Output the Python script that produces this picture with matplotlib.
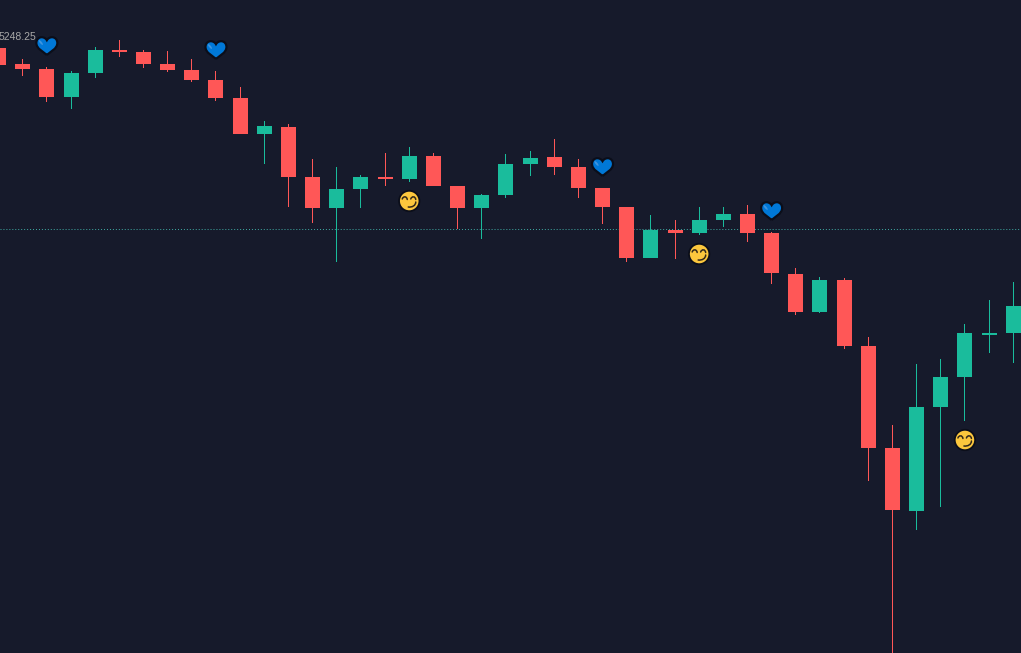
import matplotlib
matplotlib.use("Agg")
import matplotlib.pyplot as plt
from matplotlib.path import Path
from matplotlib.patches import PathPatch, Circle, Ellipse
from matplotlib.transforms import Affine2D

# Candle data
opens = [5245, 5241, 5239.75, 5232.75, 5238.75, 5244.5, 5244, 5241, 5239.5, 5237,
         5232.5, 5223.5, 5225.25, 5212.75, 5205, 5209.75, 5212.75, 5212.25, 5218, 5210.5,
         5205, 5208.25, 5216, 5217.75, 5215.25, 5210, 5205.25, 5192.5, 5199.5, 5198.75,
         5202, 5203.5, 5198.75, 5188.5, 5179, 5187, 5170.5, 5145, 5129.25, 5155.25,
         5162.75, 5173.25, 5173.75]
closes = [5240.75, 5239.75, 5232.75, 5238.75, 5244.5, 5244, 5241, 5239.5, 5237, 5232.5,
          5223.5, 5225.5, 5212.75, 5205, 5209.75, 5212.75, 5212.25, 5218, 5210.5, 5205,
          5208.25, 5216, 5217.5, 5215.25, 5210, 5205.25, 5192.5, 5199.5, 5198.75, 5202,
          5203.5, 5198.75, 5188.75, 5179, 5187, 5170.5, 5145, 5129.5, 5155.25, 5162.75,
          5173.75, 5173.75, 5180.5]
highs = [5245, 5242.25, 5240.25, 5239.25, 5245.25, 5247, 5244.5, 5244.25, 5242.25, 5239.25,
         5235.25, 5226.75, 5226, 5217.25, 5215.25, 5213.25, 5218.75, 5220.25, 5218.75, 5210.5,
         5208.5, 5218.5, 5219.25, 5222.25, 5217.25, 5210, 5205.25, 5203.25, 5202, 5205.25,
         5205.25, 5205.75, 5199, 5190, 5187.75, 5187.5, 5172.75, 5150.75, 5166, 5167.25,
         5176, 5182, 5186.5]
lows = [5240.75, 5238, 5231.5, 5229.75, 5237.5, 5242.75, 5240, 5239, 5236.5, 5231.75,
        5223.5, 5216, 5205.25, 5201.25, 5191.5, 5205, 5210.5, 5211.5, 5210.5, 5199.75,
        5197.25, 5207.5, 5213, 5213.25, 5207.5, 5201, 5191.5, 5192.5, 5192.25, 5198.25,
        5200.25, 5196.5, 5186, 5178.25, 5178.75, 5169.75, 5136.75, 5092, 5124.5, 5130.25,
        5151.75, 5168.75, 5166.25]

# Markers and price line
heart_bars = [2, 9, 25, 32]
heart_prices = [5245.5, 5244.5, 5215.25, 5204.25]
smile_bars = [17, 29, 40]
smile_prices = [5206.75, 5193.5, 5147]
last_price = 5199.75
high_label = "5248.25"
high_label_bar = 1.55
high_label_price = 5248.25

BG = "#161a2b"
RED = "#ff5757"
GREEN = "#1abc9c"
OUTLINE = "#0b0e1a"

plt.rcParams["font.family"] = ["Liberation Sans", "DejaVu Sans"]

fig = plt.figure(figsize=(10.21, 6.53), dpi=100, facecolor=BG)
ax = fig.add_axes([0, 0, 1, 1], facecolor=BG)
ax.set_xlim(0.0608, 42.321)
ax.set_ylim(5093.75, 5257)
ax.axis("off")

ax.axhline(last_price, color="#3fa9a2", lw=0.71, ls=(0, (1, 2)), zorder=1)

# Candles, wicks are one pixel wide bars so they snap like the bodies do
wick_width = 1 / 24.16
for i in range(len(opens)):
    color = GREEN if closes[i] >= opens[i] else RED
    ax.bar(i, highs[i] - lows[i], bottom=lows[i], width=wick_width, color=color,
           zorder=2, linewidth=0)
    ax.bar(i, abs(closes[i] - opens[i]), bottom=min(opens[i], closes[i]),
           width=15 * wick_width, color=color, zorder=3, linewidth=0)

ax.annotate(high_label, (high_label_bar, high_label_price), xytext=(0.6, -1.1),
            textcoords="offset points", color="#a8a8a8", fontsize=7.5,
            ha="right", va="center", zorder=4)

# Emoji shapes are in pixels around the anchor point
heart_verts = [(0, -9), (-3, -6), (-10.5, -3), (-10.5, 3), (-10.5, 6.5), (-8.2, 8.8), (-5.2, 8.8),
               (-3, 8.8), (-1, 7.6), (0, 5.8), (1, 7.6), (3, 8.8), (5.2, 8.8),
               (8.2, 8.8), (10.5, 6.5), (10.5, 3), (10.5, -3), (3, -6), (0, -9)]
heart_codes = [Path.MOVETO] + [Path.CURVE4] * 18
heart_path = Path(heart_verts, heart_codes)

# eyes and the smirk of the face
face_paths = [
    Path([(-7, 2), (-6, 5), (-2.5, 5), (-2, 1.5)],
         [Path.MOVETO, Path.CURVE4, Path.CURVE4, Path.CURVE4]),
    Path([(1.5, 2), (2.5, 5), (6, 5), (6.5, 1.5)],
         [Path.MOVETO, Path.CURVE4, Path.CURVE4, Path.CURVE4]),
    Path([(-1, -6), (3, -6.5), (6.5, -4.5), (6.5, -1)],
         [Path.MOVETO, Path.CURVE4, Path.CURVE4, Path.CURVE4]),
]

fig.canvas.draw()


def at_point(bar, price):
    x, y = ax.transData.transform((bar, price))
    return Affine2D().translate(x, y)


for bar, price in zip(heart_bars, heart_prices):
    tr = at_point(bar, price)
    ax.add_patch(PathPatch(heart_path, facecolor="#0078d7", edgecolor=OUTLINE, lw=1.6,
                           transform=tr, zorder=5, clip_on=False))
    ax.add_patch(Ellipse((-6, 3.5), 2, 6, angle=40, facecolor="#3f94de", edgecolor="none",
                         transform=tr, zorder=6))

for bar, price in zip(smile_bars, smile_prices):
    tr = at_point(bar, price)
    ax.add_patch(Circle((0, 0), 10.2, facecolor="#fcc73d", edgecolor=OUTLINE, lw=1.3,
                        transform=tr, zorder=5))
    for p in face_paths:
        ax.add_patch(PathPatch(p, facecolor="none", edgecolor="#33291a", lw=1.1,
                               transform=tr, zorder=6, capstyle="round"))

plt.savefig("out.png", dpi=100, facecolor=BG)
